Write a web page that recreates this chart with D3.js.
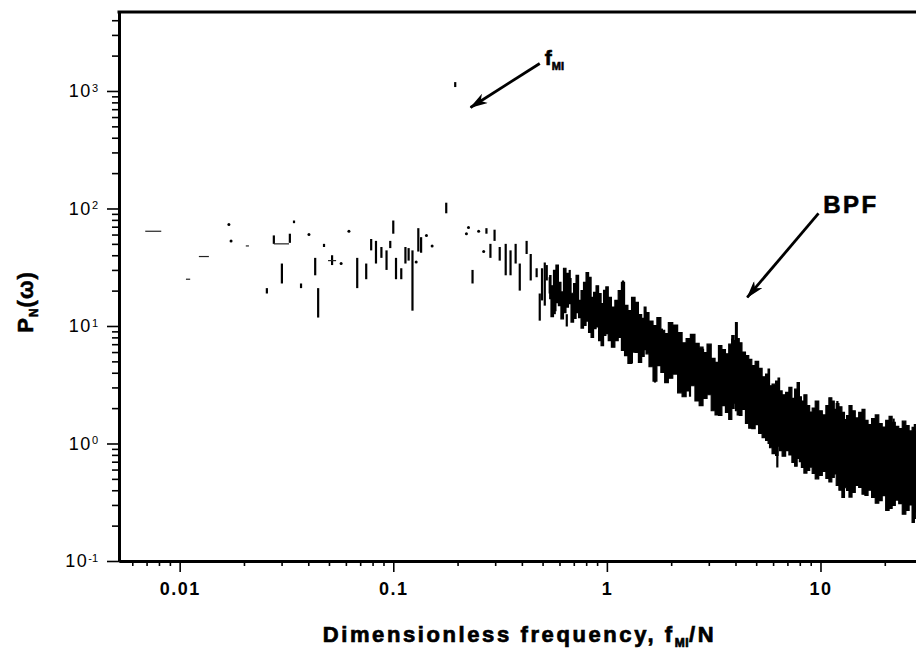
<!DOCTYPE html>
<html>
<head>
<meta charset="utf-8">
<script src="https://cdn.jsdelivr.net/npm/d3@7"></script>
<style>
  body { margin: 0; background: #fff; }
  svg text { font-family: "Liberation Sans", Arial, Helvetica, sans-serif; fill: #000; }
</style>
</head>
<body>
<svg id="chart" width="916" height="654"></svg>
<script>
// Dense part of the periodogram: frequency with the upper and lower power envelope
const bandFreq = [0.540,0.555,0.570,0.585,0.601,0.618,0.635,0.652,0.670,0.689,0.708,0.727,0.747,0.767,0.788,0.810,0.832,0.855,0.878,0.902,
  0.927,0.952,0.978,1.00,1.03,1.07,1.11,1.15,1.19,1.23,1.28,1.33,1.38,1.43,1.48,1.51,1.54,1.61,1.68,1.75,
  1.83,1.90,1.98,2.09,2.20,2.30,2.40,2.52,2.65,2.76,2.88,3.01,3.15,3.27,3.39,3.52,3.66,3.78,3.91,3.97,
  4.03,4.12,4.21,4.37,4.54,4.69,4.85,5.04,5.23,5.43,5.64,5.73,5.82,6.05,6.28,6.38,6.49,6.74,7.00,7.23,
  7.47,7.67,7.88,8.05,8.23,8.50,8.78,9.02,9.27,9.63,10.0,10.4,10.8,11.1,11.5,11.7,12.0,12.4,12.8,13.1,
  13.4,13.8,14.3,14.8,15.4,15.9,16.4,17.0,17.7,18.4,19.1,19.8,20.6,21.3,22.0,22.8,23.7,24.6,25.6,26.4,
  27.3,27.7,28.2];
const bandHigh = [26.8,22,29.7,33,23.5,19.5,31,28,25.3,19,23.0,27,16.5,20,23.5,28.5,26,17.5,19.3,22,
  18.9,15.5,20.1,21.5,17.5,14.5,16.5,20,23.5,15.0,13.5,17.5,15.9,12.5,11.6,14.5,13.0,11.0,10.1,11.8,
  9.2,8.6,10.7,10.2,8.8,7.2,7.8,8.5,7.1,6.6,5.95,7.0,5.3,4.9,6.8,6.3,5.8,7.0,8.3,7.5,
  10.7,7.8,7.2,6.0,5.6,5.2,4.6,5.0,4.35,3.7,3.9,4.3,3.1,3.2,3.4,3.6,2.8,2.6,2.72,3.0,
  2.42,2.9,3.3,2.5,2.3,2.6,2.1,1.85,2.0,2.3,1.9,1.75,2.1,2.45,2.3,1.95,2.19,2.05,1.84,1.6,
  1.73,2.1,1.9,1.65,1.84,1.95,1.57,1.45,1.63,1.75,1.48,1.38,1.57,1.7,1.51,1.40,1.34,1.55,1.42,1.28,
  1.37,1.45,1.29];
const bandLow = [17.1,12.0,13.5,15.8,14.9,11.5,13.0,14.5,15.5,10.8,11.6,13.0,11.8,9.6,10.1,11.0,8.8,8.0,9.5,9.8,
  7.5,6.8,8.3,8.6,7.5,6.6,7.5,8.0,6.2,5.6,4.8,6.0,5.95,4.9,5.5,6.3,5.8,4.5,3.4,4.6,
  4.02,3.3,3.6,3.9,2.7,2.5,2.8,3.1,2.3,2.1,2.42,2.6,1.9,1.75,1.73,2.1,1.84,1.6,1.99,2.2,
  1.9,1.75,1.73,1.95,1.48,1.35,1.34,1.45,1.22,1.12,1.06,1.0,0.92,0.82,0.79,0.95,0.87,0.78,0.87,0.80,
  0.689,0.64,0.745,0.70,0.625,0.56,0.589,0.63,0.556,0.50,0.534,0.58,0.504,0.47,0.514,0.55,0.439,0.40,0.347,0.42,
  0.398,0.35,0.383,0.44,0.422,0.37,0.361,0.40,0.347,0.31,0.327,0.36,0.269,0.28,0.297,0.33,0.308,0.25,0.269,0.30,
  0.213,0.23,0.259];

// Individual spectral lines: frequency, top and bottom of each stroke
const lineFreq   = [0.0256,0.0276,0.0301,0.0328,0.0343,0.0370,0.0431,0.0445,0.0474,0.0517,0.0678,0.0747,0.0788,0.083,0.088,0.093,0.0968,0.100,0.103,0.109,0.114,0.118,0.123,0.131,0.135,0.177,0.195,0.235,0.273,0.285,0.298,0.315,0.336,0.354,0.374,0.391,0.421,0.440,0.469,0.485,0.497,0.512,0.523,0.540,0.570,0.649,0.670,0.832,1.19,1.31,1.51,1.68,1.81,2.45,2.82,3.86,4.03,6.28,7.88,8.23,12.0,12.8,20.6,22.0,27.3];
const lineTop    = [21,59,34,61,79,23,38,21,50,40,38,34,55,53,47,44,53,79,38,31,47,46,44,68,57,112,1190,30,68,50,66,47,50,44,50,34,53,41,31,18.9,31,34.7,33,26,15.5,12.6,30,26,24.4,6.8,13.5,4.6,9.5,3.4,6.4,7.8,10.7,0.96,3.3,0.87,2.3,0.48,0.36,1.63,0.33];
const lineBottom = [18.9,50,23,51,75,21,27,11.8,47,33,21,25,44,34,38,30,46,61,25,25,34,36,13.5,43,42,91,1080,23,61,38,53,36,27,27,34,20,41,24.4,26,11.1,16.5,14.9,24.4,18.9,12.6,9.9,22,18.9,14.4,4.8,10.1,3.3,7.5,2.5,4.6,5.6,6.8,0.625,2.5,0.625,1.73,0.347,0.269,1.29,0.213];

// Single isolated samples
const dotFreq  = [0.0170,0.0174,0.0403,0.057,0.062,0.128,0.143,0.152,0.220,0.225,0.251,0.265];
const dotPower = [73,53,60,34,64,35,59,48,61,69,64,43];

// Short flat pieces of the low-frequency trace
const dashFreqStart = [0.0069,0.0107,0.0123,0.0204,0.0276,0.0495];
const dashFreqEnd   = [0.0082,0.0112,0.0137,0.0211,0.0325,0.0540];
const dashPower     = [64,25,39,48,50,36];

// Axis ticks and labels
const xMajorTicks = [0.01, 0.1, 1, 10];
const xTickLabels = ["0.01", "0.1", "1", "10"];
const yMajorTicks = [0.1, 1, 10, 100, 1000];
const yTickBase = "10";
const yTickExponents = ["-1", "0", "1", "2", "3"];

// Annotations: arrow start/end in data coordinates and label anchor
const annotations = [
  { text: "f", sub: "MI", labelF: 0.512, labelP: 1648, fromF: 0.485, fromP: 1714, toF: 0.230, toP: 724 },
  { text: "BPF", sub: "", labelF: 10.3, labelP: 90.7, fromF: 9.79, fromP: 90.7, toF: 4.54, toP: 17.5 }
];

const svg = d3.select("#chart");
const plotLeft = 119, plotRight = 916, plotTop = 12, plotBottom = 561;

const x = d3.scaleLog().domain([0.0052, 28]).range([plotLeft, plotRight]);
const y = d3.scaleLog().domain([0.1, 4700]).range([plotBottom, plotTop]);

const defs = svg.append("defs");
defs.append("clipPath").attr("id", "plotClip")
  .append("rect").attr("x", plotLeft).attr("y", plotTop)
  .attr("width", plotRight - plotLeft).attr("height", plotBottom - plotTop);
defs.append("marker").attr("id", "head")
  .attr("viewBox", "0 0 18 11").attr("refX", 17).attr("refY", 5.5)
  .attr("markerWidth", 18).attr("markerHeight", 11).attr("markerUnits", "userSpaceOnUse")
  .attr("orient", "auto")
  .append("path").attr("d", "M0,0 L18,5.5 L0,11 L5,5.5 Z").attr("fill", "#000");

const plot = svg.append("g").attr("clip-path", "url(#plotClip)");

// dense band, drawn stepwise so the edges read as individual spectral lines
const band = bandFreq.map((f, i) => ({ f, hi: bandHigh[i], lo: bandLow[i] }));
plot.append("path").datum(band)
  .attr("d", d3.area().curve(d3.curveStep).x(d => x(d.f)).y0(d => y(d.lo)).y1(d => y(d.hi)))
  .attr("fill", "#000").attr("stroke", "#000").attr("stroke-width", 1.2).attr("stroke-linejoin", "miter");

// vertical spectral lines
plot.selectAll("line.spk").data(lineFreq.map((f, i) => ({ f, t: lineTop[i], b: lineBottom[i] })))
  .join("line").attr("class", "spk")
  .attr("x1", d => x(d.f)).attr("x2", d => x(d.f))
  .attr("y1", d => y(d.t)).attr("y2", d => y(d.b))
  .attr("stroke", "#000").attr("stroke-width", 2.2);

// dashes
plot.selectAll("line.dash").data(dashPower.map((p, i) => ({ f0: dashFreqStart[i], f1: dashFreqEnd[i], p })))
  .join("line").attr("class", "dash")
  .attr("x1", d => x(d.f0)).attr("x2", d => x(d.f1))
  .attr("y1", d => y(d.p)).attr("y2", d => y(d.p))
  .attr("stroke", "#222").attr("stroke-width", 1.2);

// dots
plot.selectAll("circle.dot").data(dotFreq.map((f, i) => ({ f, p: dotPower[i] })))
  .join("circle").attr("class", "dot")
  .attr("cx", d => x(d.f)).attr("cy", d => y(d.p)).attr("r", 1.5).attr("fill", "#000");

// ---- axes ----
function styleAxis(g, width) {
  g.select(".domain").attr("stroke-width", width).attr("stroke", "#000");
  g.selectAll(".tick line").attr("stroke", "#000").attr("stroke-width", 1.6);
}
const xMinor = x.ticks().filter(v => !xMajorTicks.some(m => Math.abs(m - v) < 1e-9));
const yMinor = y.ticks().filter(v => !yMajorTicks.some(m => Math.abs(m - v) < 1e-9));

svg.append("g").attr("transform", `translate(0,${plotBottom})`)
  .call(d3.axisBottom(x).tickValues(xMinor).tickSize(5).tickSizeOuter(0).tickFormat(""))
  .call(g => styleAxis(g, 3));
const gx = svg.append("g").attr("transform", `translate(0,${plotBottom})`)
  .call(d3.axisBottom(x).tickValues(xMajorTicks).tickSize(11).tickSizeOuter(0).tickPadding(10)
    .tickFormat((d, i) => xTickLabels[i]))
  .call(g => styleAxis(g, 3));
gx.selectAll(".tick text").attr("font-size", 18).attr("font-weight", "bold")
  .attr("letter-spacing", "1.5px").attr("font-family", null);

svg.append("g").attr("transform", `translate(${plotLeft},0)`)
  .call(d3.axisLeft(y).tickValues(yMinor).tickSize(7).tickSizeOuter(0).tickFormat(""))
  .call(g => styleAxis(g, 3));
const gy = svg.append("g").attr("transform", `translate(${plotLeft},0)`)
  .call(d3.axisLeft(y).tickValues(yMajorTicks).tickSize(12).tickSizeOuter(0).tickPadding(9).tickFormat(""))
  .call(g => styleAxis(g, 3));
gy.selectAll(".tick text").each(function (d, i) {
  const t = d3.select(this).attr("font-size", 18).attr("font-family", null).attr("letter-spacing", "1.5px");
  t.text(yTickBase);
  t.append("tspan").attr("dy", "-0.5em").attr("font-size", 11).attr("letter-spacing", "0px").text(yTickExponents[i]);
});

// frame top edge
svg.append("line").attr("x1", plotLeft - 1.5).attr("x2", plotRight).attr("y1", plotTop).attr("y2", plotTop)
  .attr("stroke", "#000").attr("stroke-width", 3);

// ---- axis titles ----
const xt = svg.append("text").attr("x", (plotLeft + plotRight) / 2 + 2).attr("y", 642)
  .attr("text-anchor", "middle").attr("font-size", 22).attr("font-weight", "bold")
  .attr("letter-spacing", "2.6px").attr("stroke", "#000").attr("stroke-width", 0.7);
xt.append("tspan").text("Dimensionless frequency, f");
xt.append("tspan").attr("font-size", 12).attr("dy", 5).attr("letter-spacing", "0.5px").text("MI");
xt.append("tspan").attr("dy", -5).text("/N");

const yt = svg.append("text").attr("transform", "translate(33,302) rotate(-90)")
  .attr("text-anchor", "middle").attr("font-size", 22).attr("font-weight", "bold")
  .attr("letter-spacing", "1px").attr("stroke", "#000").attr("stroke-width", 0.5);
yt.append("tspan").text("P");
yt.append("tspan").attr("font-size", 12).attr("dy", 5).text("N");
yt.append("tspan").attr("dy", -5).text("(ω)");

// ---- annotations ----
annotations.forEach(a => {
  svg.append("line")
    .attr("x1", x(a.fromF)).attr("y1", y(a.fromP))
    .attr("x2", x(a.toF)).attr("y2", y(a.toP))
    .attr("stroke", "#000").attr("stroke-width", 2.8).attr("marker-end", "url(#head)");
  const t = svg.append("text").attr("x", x(a.labelF)).attr("y", y(a.labelP))
    .attr("font-weight", "bold").attr("stroke", "#000").attr("stroke-width", 0.6);
  if (a.sub) {
    t.attr("font-size", 21);
    t.append("tspan").text(a.text);
    t.append("tspan").attr("font-size", 11).attr("dy", 5).text(a.sub);
  } else {
    t.attr("font-size", 24).attr("letter-spacing", "2.5px").text(a.text);
  }
});
</script>
</body>
</html>
